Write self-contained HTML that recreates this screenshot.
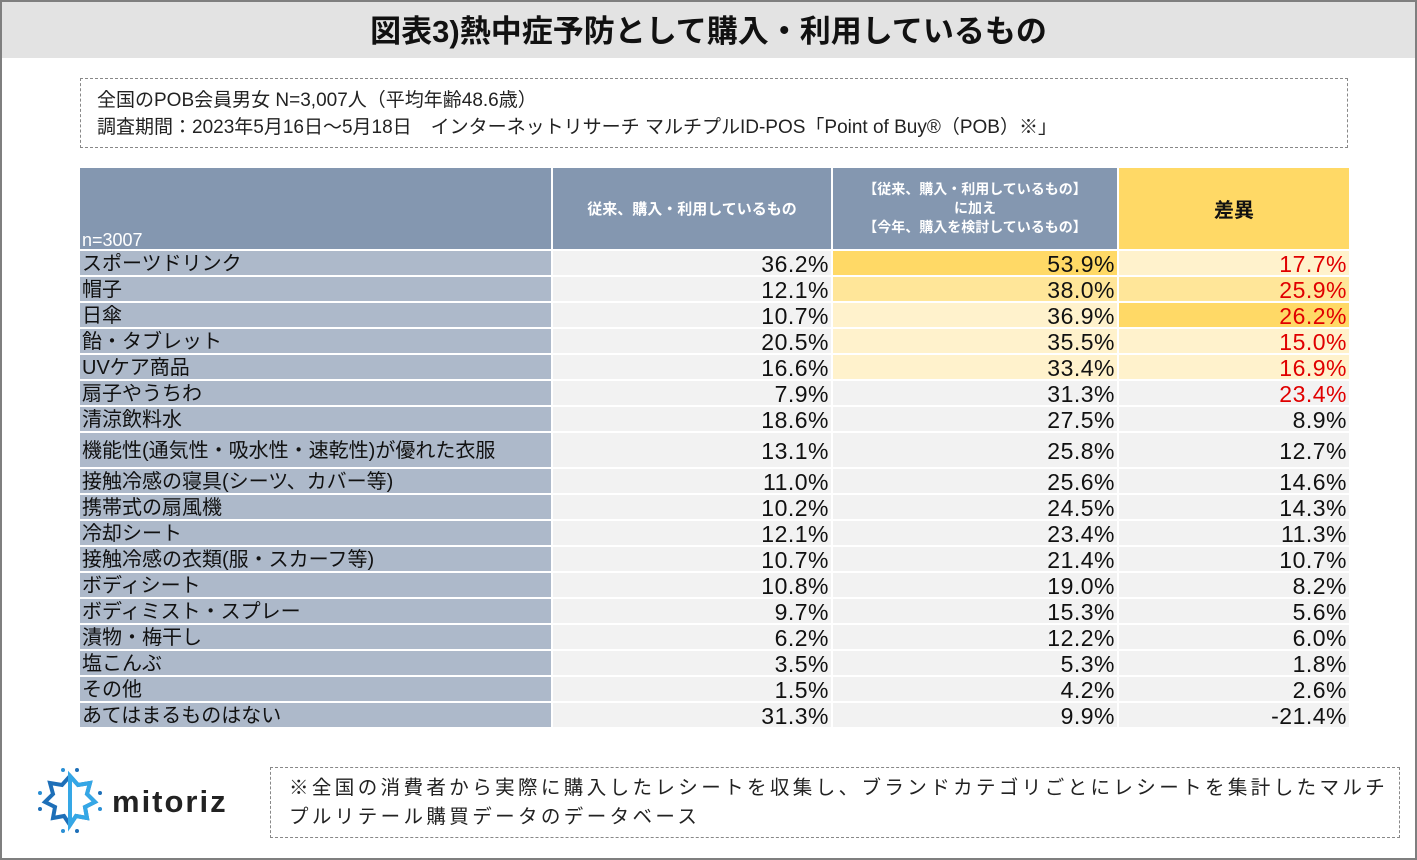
<!DOCTYPE html>
<html><head><meta charset="utf-8">
<style>
body{margin:0;width:1417px;height:860px;overflow:hidden;background:#fff;font-family:"Liberation Sans","Noto Sans CJK JP",sans-serif;}
#frame{position:absolute;left:0;top:0;width:1413px;height:856px;border:2px solid #7f7f7f;}
#title{position:absolute;left:2px;top:2px;width:1413px;height:56px;background:#e3e3e3;text-align:center;font-size:31px;font-weight:bold;line-height:60px;color:#111;}
#info{position:absolute;left:80px;top:78px;width:1268px;height:70px;border:1.5px dashed #888;box-sizing:border-box;padding:8px 0 0 16px;font-size:19px;line-height:27px;color:#222;}
#tbl{position:absolute;left:0;top:0;}
.c{position:absolute;box-sizing:border-box;}
#foot{position:absolute;left:270px;top:767px;width:1130px;height:71px;border:1.5px dashed #888;box-sizing:border-box;padding:6px 0 0 18px;font-size:19.5px;line-height:29px;color:#222;letter-spacing:3.4px;white-space:nowrap;overflow:hidden;}
#logo{position:absolute;left:30px;top:762px;}
</style></head><body>
<div id="frame"></div>
<div id="title">図表3)熱中症予防として購入・利用しているもの</div>
<div id="info">全国のPOB会員男女 N=3,007人（平均年齢48.6歳）<br>調査期間：2023年5月16日～5月18日　インターネットリサーチ マルチプルID-POS「Point of Buy®（POB）※」</div>
<div id="tbl"></div>
<svg id="logo" width="230" height="80">
<g transform="translate(40,38)">
<polygon points="0,-24 8,-15 20,-17 17,-6 25,2 15,7 17,18 6,16 0,25 -6,16 -17,18 -15,7 -25,2 -17,-6 -20,-17 -8,-15" fill="none" stroke="#1e6fb8" stroke-width="4"/>
<polygon points="0,-24 8,-15 20,-17 17,-6 25,2 15,7 17,18 6,16 0,25" fill="none" stroke="#35a7e6" stroke-width="4"/>
<circle cx="-7" cy="-30" r="2" fill="#2a8fd4"/><circle cx="7" cy="-30" r="2" fill="#1e6fb8"/>
<circle cx="-30" cy="-7" r="2" fill="#2a8fd4"/><circle cx="30" cy="-7" r="2" fill="#1e6fb8"/>
<circle cx="-30" cy="9" r="2" fill="#1e6fb8"/><circle cx="30" cy="9" r="2" fill="#2a8fd4"/>
<circle cx="-7" cy="31" r="2" fill="#2a8fd4"/><circle cx="7" cy="31" r="2" fill="#1e6fb8"/>
</g>
<text x="82" y="50" font-family="Liberation Sans, sans-serif" font-weight="bold" font-size="31" fill="#222" letter-spacing="2">mitoriz</text>
</svg>
<div id="foot">※全国の消費者から実際に購入したレシートを収集し、ブランドカテゴリごとにレシートを集計したマルチ<br>プルリテール購買データのデータベース</div>
<script>
const categories=["スポーツドリンク","帽子","日傘","飴・タブレット","UVケア商品","扇子やうちわ","清涼飲料水","機能性(通気性・吸水性・速乾性)が優れた衣服","接触冷感の寝具(シーツ、カバー等)","携帯式の扇風機","冷却シート","接触冷感の衣類(服・スカーフ等)","ボディシート","ボディミスト・スプレー","漬物・梅干し","塩こんぶ","その他","あてはまるものはない"];
const previous=[36.2,12.1,10.7,20.5,16.6,7.9,18.6,13.1,11.0,10.2,12.1,10.7,10.8,9.7,6.2,3.5,1.5,31.3];
const thisYear=[53.9,38.0,36.9,35.5,33.4,31.3,27.5,25.8,25.6,24.5,23.4,21.4,19.0,15.3,12.2,5.3,4.2,9.9];
const diff=[17.7,25.9,26.2,15.0,16.9,23.4,8.9,12.7,14.6,14.3,11.3,10.7,8.2,5.6,6.0,1.8,2.6,-21.4];
const t=document.getElementById('tbl');
function cell(x,y,w,h,bg,html,style){const d=document.createElement('div');d.className='c';d.style.cssText=`left:${x}px;top:${y}px;width:${w}px;height:${h}px;background:${bg};`+(style||'');d.innerHTML=html;t.appendChild(d);return d;}
const X=[80,553,833,1119],W=[471,278,284,230];
let h;
h=cell(X[0],168,W[0],81,'#8497b0','n=3007','color:#fff;font-size:18px;padding:0 0 0 2px;display:flex;align-items:flex-end;line-height:17px;');

h=cell(X[1],168,W[1],81,'#8497b0','従来、購入・利用しているもの','color:#fff;font-size:15px;font-weight:bold;display:flex;align-items:center;justify-content:center;');

h=cell(X[2],168,W[2],81,'#8497b0','【従来、購入・利用しているもの】<br>に加え<br>【今年、購入を検討しているもの】','color:#fff;font-size:14px;font-weight:bold;line-height:19px;display:flex;align-items:center;justify-content:center;text-align:center;');

h=cell(X[3],168,W[3],81,'#ffd966','差異','color:#111;font-size:20px;font-weight:bold;display:flex;align-items:center;justify-content:center;');

const ranks=(arr)=>{const s=[...arr].sort((a,b)=>b-a);return v=>v===s[0]?'#ffd966':v===s[1]?'#ffe699':null;};
const r2=ranks(thisYear),r3=ranks(diff);
let y=251;
categories.forEach((c,i)=>{
  const rh=c.length>20?34:24;
  const vs='font-size:23px;letter-spacing:0.5px;color:#111;text-align:right;padding-right:2px;line-height:'+(rh+2)+'px;';
  let d=cell(X[0],y,W[0],rh,'#adb9ca',c,'font-size:20px;color:#111;padding-left:2px;line-height:'+(rh+2)+'px;white-space:nowrap;');
  
  d=cell(X[1],y,W[1],rh,'#f2f2f2',previous[i].toFixed(1)+'%',vs);
  
  const hl=i<5;
  d=cell(X[2],y,W[2],rh,r2(thisYear[i])||(hl?'#fff2cc':'#f2f2f2'),thisYear[i].toFixed(1)+'%',vs);
  
  d=cell(X[3],y,W[3],rh,r3(diff[i])||(hl?'#fff2cc':'#f2f2f2'),diff[i].toFixed(1)+'%',vs+(i<6?'color:#e00000;':''));
  
  y+=rh+2;
});
</script>
</body></html>
